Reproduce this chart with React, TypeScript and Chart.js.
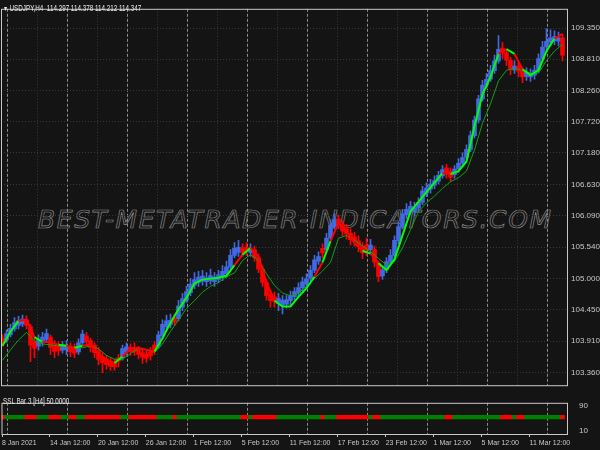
import React, { useEffect, useRef } from 'react';
import { Chart, registerables } from 'chart.js';

Chart.register(...registerables);

// Each candle aggregates two H4 bars (USDJPY, 8 Jan 2021 -> mid March 2021)
const candleOpen = [
  103.96, 103.93, 104.02, 104.12, 104.18, 104.21, 104.28, 104.16, 103.90, 103.82,
  103.89, 103.94, 103.98, 103.84, 103.82, 103.75, 103.76, 103.80, 103.78, 103.72,
  103.88, 104.00, 103.92, 103.84, 103.74, 103.64, 103.60, 103.56, 103.54, 103.62,
  103.62, 103.72, 103.80, 103.80, 103.76, 103.71, 103.69, 103.72, 103.84, 103.82,
  104.00, 104.16, 104.20, 104.32, 104.30, 104.50, 104.62, 104.75, 104.88, 104.93,
  104.95, 104.94, 104.96, 104.94, 104.98, 105.02, 105.08, 105.20, 105.40, 105.45,
  105.53, 105.54, 105.45, 105.50, 105.36, 105.16, 104.93, 104.72, 104.68, 104.57,
  104.54, 104.55, 104.61, 104.68, 104.75, 104.84, 104.90, 105.00, 105.14, 105.30,
  105.52, 105.50, 105.70, 105.90, 106.03, 105.94, 105.86, 105.78, 105.72, 105.65,
  105.56, 105.58, 105.50, 105.50, 105.26, 105.04, 105.15, 105.28, 105.40, 105.65,
  105.90, 106.10, 106.16, 106.16, 106.22, 106.32, 106.48, 106.55, 106.62, 106.69,
  106.78, 106.92, 106.86, 106.80, 106.90, 107.00, 107.10, 107.24, 107.48, 107.75,
  108.12, 108.36, 108.46, 108.61, 108.78, 109.00, 108.92, 108.79, 108.62, 108.69,
  108.60, 108.51, 108.50, 108.53, 108.62, 108.82, 109.02, 109.10, 109.13, 109.12,
  109.18,
];
const candleHigh = [
  104.02, 104.10, 104.20, 104.32, 104.34, 104.36, 104.35, 104.20, 103.98, 104.02,
  104.06, 104.12, 104.02, 103.92, 103.90, 103.90, 103.92, 103.88, 103.86, 103.95,
  104.10, 104.06, 103.96, 103.88, 103.80, 103.70, 103.66, 103.62, 103.60, 103.68,
  103.84, 103.88, 103.86, 103.88, 103.82, 103.78, 103.74, 103.80, 103.90, 104.08,
  104.28, 104.36, 104.38, 104.38, 104.62, 104.74, 104.86, 105.00, 105.10, 105.12,
  105.14, 105.10, 105.16, 105.10, 105.14, 105.22, 105.30, 105.50, 105.62, 105.66,
  105.60, 105.62, 105.60, 105.56, 105.42, 105.22, 104.98, 104.80, 104.76, 104.74,
  104.70, 104.70, 104.78, 104.84, 104.92, 105.02, 105.08, 105.22, 105.40, 105.46,
  105.60, 105.78, 106.02, 106.12, 106.10, 106.00, 105.94, 105.86, 105.80, 105.74,
  105.62, 105.70, 105.68, 105.56, 105.30, 105.22, 105.36, 105.50, 105.74, 105.98,
  106.20, 106.30, 106.34, 106.32, 106.40, 106.60, 106.66, 106.72, 106.78, 106.86,
  106.96, 106.98, 106.92, 106.96, 107.08, 107.18, 107.32, 107.56, 107.82, 108.18,
  108.44, 108.56, 108.70, 108.88, 109.22, 109.10, 108.98, 108.84, 108.78, 108.74,
  108.66, 108.66, 108.64, 108.70, 108.90, 109.12, 109.34, 109.32, 109.30, 109.28,
  109.24,
];
const candleLow = [
  103.82, 103.88, 103.98, 104.08, 104.12, 104.16, 104.12, 103.55, 103.62, 103.75,
  103.82, 103.88, 103.68, 103.62, 103.66, 103.70, 103.68, 103.64, 103.62, 103.68,
  103.84, 103.84, 103.72, 103.62, 103.50, 103.36, 103.42, 103.40, 103.40, 103.46,
  103.58, 103.66, 103.66, 103.66, 103.60, 103.52, 103.54, 103.58, 103.68, 103.78,
  103.96, 104.12, 104.14, 104.18, 104.26, 104.44, 104.58, 104.70, 104.82, 104.86,
  104.88, 104.86, 104.90, 104.86, 104.92, 104.96, 105.02, 105.16, 105.36, 105.38,
  105.38, 105.40, 105.38, 105.30, 105.10, 104.86, 104.62, 104.50, 104.50, 104.44,
  104.38, 104.48, 104.54, 104.62, 104.68, 104.78, 104.84, 104.96, 105.10, 105.24,
  105.36, 105.46, 105.66, 105.86, 105.86, 105.74, 105.68, 105.58, 105.56, 105.46,
  105.34, 105.40, 105.42, 105.20, 104.94, 104.98, 105.10, 105.24, 105.36, 105.60,
  105.86, 106.04, 106.10, 106.08, 106.16, 106.28, 106.42, 106.48, 106.56, 106.64,
  106.74, 106.74, 106.68, 106.74, 106.84, 106.94, 107.06, 107.20, 107.44, 107.70,
  108.08, 108.30, 108.42, 108.56, 108.74, 108.82, 108.70, 108.54, 108.56, 108.50,
  108.40, 108.44, 108.42, 108.46, 108.58, 108.78, 108.96, 109.04, 109.06, 109.04,
  108.78,
];
const candleClose = [
  103.88, 104.04, 104.13, 104.23, 104.26, 104.29, 104.18, 103.84, 103.78, 103.93,
  103.98, 104.04, 103.80, 103.73, 103.74, 103.83, 103.82, 103.72, 103.70, 103.88,
  104.03, 103.90, 103.80, 103.71, 103.59, 103.53, 103.50, 103.47, 103.46, 103.56,
  103.78, 103.81, 103.72, 103.73, 103.68, 103.63, 103.61, 103.65, 103.76, 104.02,
  104.20, 104.26, 104.27, 104.24, 104.52, 104.65, 104.77, 104.90, 104.98, 105.02,
  105.04, 105.01, 105.05, 105.02, 105.06, 105.12, 105.20, 105.40, 105.52, 105.54,
  105.45, 105.47, 105.51, 105.36, 105.16, 104.93, 104.70, 104.61, 104.60, 104.65,
  104.62, 104.63, 104.70, 104.77, 104.84, 104.94, 104.99, 105.14, 105.32, 105.38,
  105.44, 105.70, 105.92, 106.02, 105.94, 105.82, 105.77, 105.67, 105.64, 105.56,
  105.44, 105.50, 105.58, 105.28, 105.03, 105.15, 105.29, 105.40, 105.66, 105.90,
  106.12, 106.20, 106.25, 106.23, 106.32, 106.52, 106.57, 106.64, 106.70, 106.79,
  106.89, 106.82, 106.76, 106.90, 107.00, 107.10, 107.24, 107.48, 107.75, 108.12,
  108.36, 108.46, 108.61, 108.78, 108.98, 108.92, 108.79, 108.63, 108.69, 108.60,
  108.50, 108.58, 108.56, 108.62, 108.82, 109.02, 109.12, 109.18, 109.20, 109.18,
  108.88,
];
// SSL Bar state per candle: 1 = up (green / blue candle), 0 = down (red)
const sslTrend = [
  0, 1, 1, 1, 1, 1, 0, 0, 0, 1, 1, 1, 0, 0, 0, 1, 1, 0, 0, 1,
  1, 0, 0, 0, 0, 0, 0, 0, 0, 0, 1, 1, 0, 0, 0, 0, 0, 0, 0, 1,
  1, 1, 1, 0, 1, 1, 1, 1, 1, 1, 1, 1, 1, 1, 1, 1, 1, 1, 1, 1,
  0, 0, 1, 0, 0, 0, 0, 0, 0, 1, 1, 1, 1, 1, 1, 1, 1, 1, 1, 1,
  0, 1, 1, 1, 0, 0, 0, 0, 0, 0, 0, 0, 1, 0, 0, 1, 1, 1, 1, 1,
  1, 1, 1, 1, 1, 1, 1, 1, 1, 1, 1, 0, 0, 1, 1, 1, 1, 1, 1, 1,
  1, 1, 1, 1, 1, 0, 0, 0, 1, 0, 0, 1, 1, 1, 1, 1, 1, 1, 1, 1,
  0,
];
// SSL channel line, one value every 4 H4 bars
const sslLine = [
  103.827, 104.077, 104.261, 104.277, 103.977, 103.894, 103.894, 103.844, 103.827, 103.794,
  103.827, 103.844, 103.693, 103.577, 103.527, 103.643, 103.777, 103.794, 103.760, 103.727,
  103.960, 104.227, 104.461, 104.661, 104.912, 104.978, 104.995, 105.012, 105.045, 105.229,
  105.412, 105.529, 105.379, 104.928, 104.611, 104.511, 104.511, 104.678, 104.828, 105.028,
  105.279, 105.646, 105.963, 105.829, 105.612, 105.479, 105.429, 105.262, 105.145, 105.329,
  105.746, 106.163, 106.330, 106.497, 106.664, 106.830, 106.814, 106.864, 107.031, 107.648,
  108.199, 108.499, 108.900, 108.983, 108.900, 108.633, 108.532, 108.616, 108.950, 109.166,
  109.250,
];
// Slow moving average, one value every 4 H4 bars
const slowLine = [
  103.577, 103.760, 103.927, 104.061, 103.910, 103.860, 103.844, 103.827, 103.810, 103.794,
  103.794, 103.827, 103.777, 103.660, 103.593, 103.593, 103.693, 103.777, 103.760, 103.710,
  103.860, 104.077, 104.277, 104.478, 104.611, 104.761, 104.861, 104.928, 105.028, 105.095,
  105.312, 105.412, 105.312, 105.078, 104.878, 104.745, 104.695, 104.745, 104.861, 104.995,
  105.128, 105.279, 105.696, 105.746, 105.662, 105.562, 105.462, 105.345, 105.229, 105.295,
  105.529, 105.846, 106.163, 106.313, 106.430, 106.563, 106.680, 106.747, 106.864, 107.231,
  107.698, 108.032, 108.432, 108.616, 108.649, 108.616, 108.566, 108.566, 108.783, 108.950,
  109.066,
];
const priceTicks = [103.36, 103.91, 104.45, 105.0, 105.54, 106.09, 106.63, 107.18, 107.72, 108.26, 108.81, 109.35];
const dateLabels = [
  '8 Jan 2021', '14 Jan 12:00', '20 Jan 12:00', '26 Jan 12:00', '1 Feb 12:00', '5 Feb 12:00',
  '11 Feb 12:00', '17 Feb 12:00', '23 Feb 12:00', '1 Mar 12:00', '5 Mar 12:00', '11 Mar 12:00',
];
const dateBars = [0, 24, 48, 72, 96, 120, 144, 168, 192, 216, 240, 264];
const weekBars = [3, 33, 63, 93, 123, 153, 183, 213, 243, 273];
const midBars = [18, 48, 78, 108, 138, 168, 198, 228, 258];
const subLevels = [10, 90];

const X_MIN = -0.25;
const X_MAX = 282.75;
const BLUE = '#4169e1';
const RED = '#ff0000';
const GREEN_BAR = '#008000';
const TEXT = '#c8c8c8';
const SANS = "'Liberation Sans', sans-serif";

const framePlugin = {
  id: 'frame',
  afterDraw(chart: any) {
    const { ctx, chartArea: a } = chart;
    ctx.save();
    ctx.strokeStyle = '#c8c8c8';
    ctx.lineWidth = 1;
    ctx.strokeRect(a.left + 0.5, a.top + 0.5, a.right - a.left, a.bottom - a.top);
    ctx.restore();
  },
};

const isWeek = (c: any) => !!c.tick && weekBars.includes(c.tick.value);
const isDate = (c: any) => !!c.tick && dateBars.includes(c.tick.value);

const smallText: React.CSSProperties = {
  position: 'absolute',
  fontFamily: SANS,
  fontSize: 8.5,
  lineHeight: '10px',
  color: '#e6e6e6',
  whiteSpace: 'pre',
  transform: 'scaleX(0.74)',
  transformOrigin: 'left top',
};

export default function App() {
  const mainRef = useRef<HTMLCanvasElement>(null);
  const subRef = useRef<HTMLCanvasElement>(null);

  useEffect(() => {
    const candleColors = sslTrend.map((t) => (t ? BLUE : RED));
    const main = new Chart(mainRef.current as HTMLCanvasElement, {
      type: 'bar',
      data: {
        datasets: [
          {
            type: 'line',
            data: sslLine.map((v, j) => ({ x: 4 * j + 0.5, y: v })),
            borderColor: '#00ff00',
            borderWidth: 2,
            pointRadius: 0,
            tension: 0,
            segment: {
              borderColor: (c: any) => (sslTrend[Math.min(2 * c.p1DataIndex, sslTrend.length - 1)] ? '#00ff00' : RED),
            },
            order: 0,
          } as any,
          {
            type: 'line',
            data: slowLine.map((v, j) => ({ x: 4 * j + 0.5, y: v })),
            borderColor: '#12a012',
            borderWidth: 1,
            pointRadius: 0,
            tension: 0,
            order: 1,
          } as any,
          {
            type: 'bar',
            data: candleOpen.map((o, i) => ({ x: 2 * i + 0.5, y: [o, candleClose[i]] })),
            backgroundColor: candleColors,
            barThickness: 4,
            grouped: false,
            order: 2,
          } as any,
          {
            type: 'bar',
            data: candleLow.map((l, i) => ({ x: 2 * i + 0.5, y: [l, candleHigh[i]] })),
            backgroundColor: candleColors,
            barThickness: 1,
            grouped: false,
            order: 3,
          } as any,
        ],
      },
      options: {
        animation: false,
        responsive: false,
        devicePixelRatio: 1,
        layout: { padding: { left: 1, top: 1, right: 0, bottom: 1 } },
        plugins: { legend: { display: false }, tooltip: { enabled: false } },
        scales: {
          x: {
            type: 'linear',
            min: X_MIN,
            max: X_MAX,
            offset: false,
            afterBuildTicks: (s: any) => {
              s.ticks = [...weekBars, ...midBars].sort((a, b) => a - b).map((v) => ({ value: v }));
            },
            afterFit: (s: any) => {
              s.height = 0;
            },
            ticks: { display: false },
            grid: {
              offset: false,
              drawTicks: false,
              color: (c: any) => (isWeek(c) ? '#8c8c8c' : '#383838'),
            },
            border: { display: false, dash: (c: any) => (isWeek(c) ? [3, 2] : [1, 2]) },
          } as any,
          y: {
            type: 'linear',
            position: 'right',
            min: 103.143,
            max: 109.684,
            afterBuildTicks: (s: any) => {
              s.ticks = priceTicks.map((v) => ({ value: v }));
            },
            afterFit: (s: any) => {
              s.width = 33;
            },
            ticks: {
              color: TEXT,
              padding: 4,
              font: { family: SANS, size: 8 },
              callback: (v: any) => Number(v).toFixed(3),
            },
            grid: { color: '#383838', drawTicks: false },
            border: { display: false, dash: [1, 2] },
          } as any,
        },
      },
      plugins: [framePlugin],
    });

    const sub = new Chart(subRef.current as HTMLCanvasElement, {
      type: 'bar',
      data: {
        datasets: [
          {
            data: sslTrend.map((t, i) => ({ x: 2 * i + 0.5, y: [48, 60] })),
            backgroundColor: sslTrend.map((t) => (t ? GREEN_BAR : RED)),
            barPercentage: 1,
            categoryPercentage: 1,
          } as any,
        ],
      },
      options: {
        animation: false,
        responsive: false,
        devicePixelRatio: 1,
        layout: { padding: { left: 1, top: 1, right: 0, bottom: 0 } },
        plugins: { legend: { display: false }, tooltip: { enabled: false } },
        scales: {
          x: {
            type: 'linear',
            min: X_MIN,
            max: X_MAX,
            offset: false,
            afterBuildTicks: (s: any) => {
              s.ticks = [...dateBars, ...weekBars].sort((a, b) => a - b).map((v) => ({ value: v }));
            },
            afterFit: (s: any) => {
              s.height = 16;
            },
            ticks: {
              color: TEXT,
              padding: 2,
              align: 'start',
              maxRotation: 0,
              autoSkip: false,
              font: { family: SANS, size: 7 },
              callback: (v: any) => {
                const k = dateBars.indexOf(Number(v));
                return k >= 0 ? dateLabels[k] : '';
              },
            },
            grid: {
              offset: false,
              tickLength: 3,
              color: (c: any) => (isWeek(c) ? '#8c8c8c' : 'rgba(0,0,0,0)'),
              tickColor: (c: any) => (isDate(c) ? TEXT : 'rgba(0,0,0,0)'),
            },
            border: { display: false, dash: [3, 2] },
          } as any,
          y: {
            type: 'linear',
            position: 'right',
            min: 0,
            max: 100,
            afterBuildTicks: (s: any) => {
              s.ticks = subLevels.map((v) => ({ value: v }));
            },
            afterFit: (s: any) => {
              s.width = 33;
            },
            ticks: {
              color: TEXT,
              padding: 4,
              font: { family: SANS, size: 8 },
            },
            grid: { display: false },
            border: { display: false },
          } as any,
        },
      },
      plugins: [framePlugin],
    });

    return () => {
      main.destroy();
      sub.destroy();
    };
  }, []);

  return (
    <div
      style={{
        position: 'fixed',
        left: 0,
        top: 0,
        width: 600,
        height: 450,
        background: '#141414',
        overflow: 'hidden',
      }}
    >
      <div
        style={{
          position: 'absolute',
          left: 38,
          top: 206,
          fontFamily: "'DejaVu Sans', sans-serif",
          fontStyle: 'italic',
          fontSize: 25,
          lineHeight: '28px',
          letterSpacing: '1.6px',
          color: 'transparent',
          WebkitTextStroke: '0.7px #8a8a8a',
          whiteSpace: 'nowrap',
        }}
      >
        BEST-METATRADER-INDICATORS.COM
      </div>
      <canvas ref={mainRef} width={600} height={394} style={{ position: 'absolute', left: 0, top: 0 }} />
      <canvas ref={subRef} width={600} height={56} style={{ position: 'absolute', left: 0, top: 394 }} />
      <div style={{ ...smallText, left: 3, top: 3 }}>
        <span style={{ fontSize: 7 }}>▼ </span>USDJPY,H4  114.297 114.378 114.212 114.347
      </div>
      <div style={{ ...smallText, left: 3, top: 396 }}>SSL Bar 3 [H4] 50.0000</div>
    </div>
  );
}
